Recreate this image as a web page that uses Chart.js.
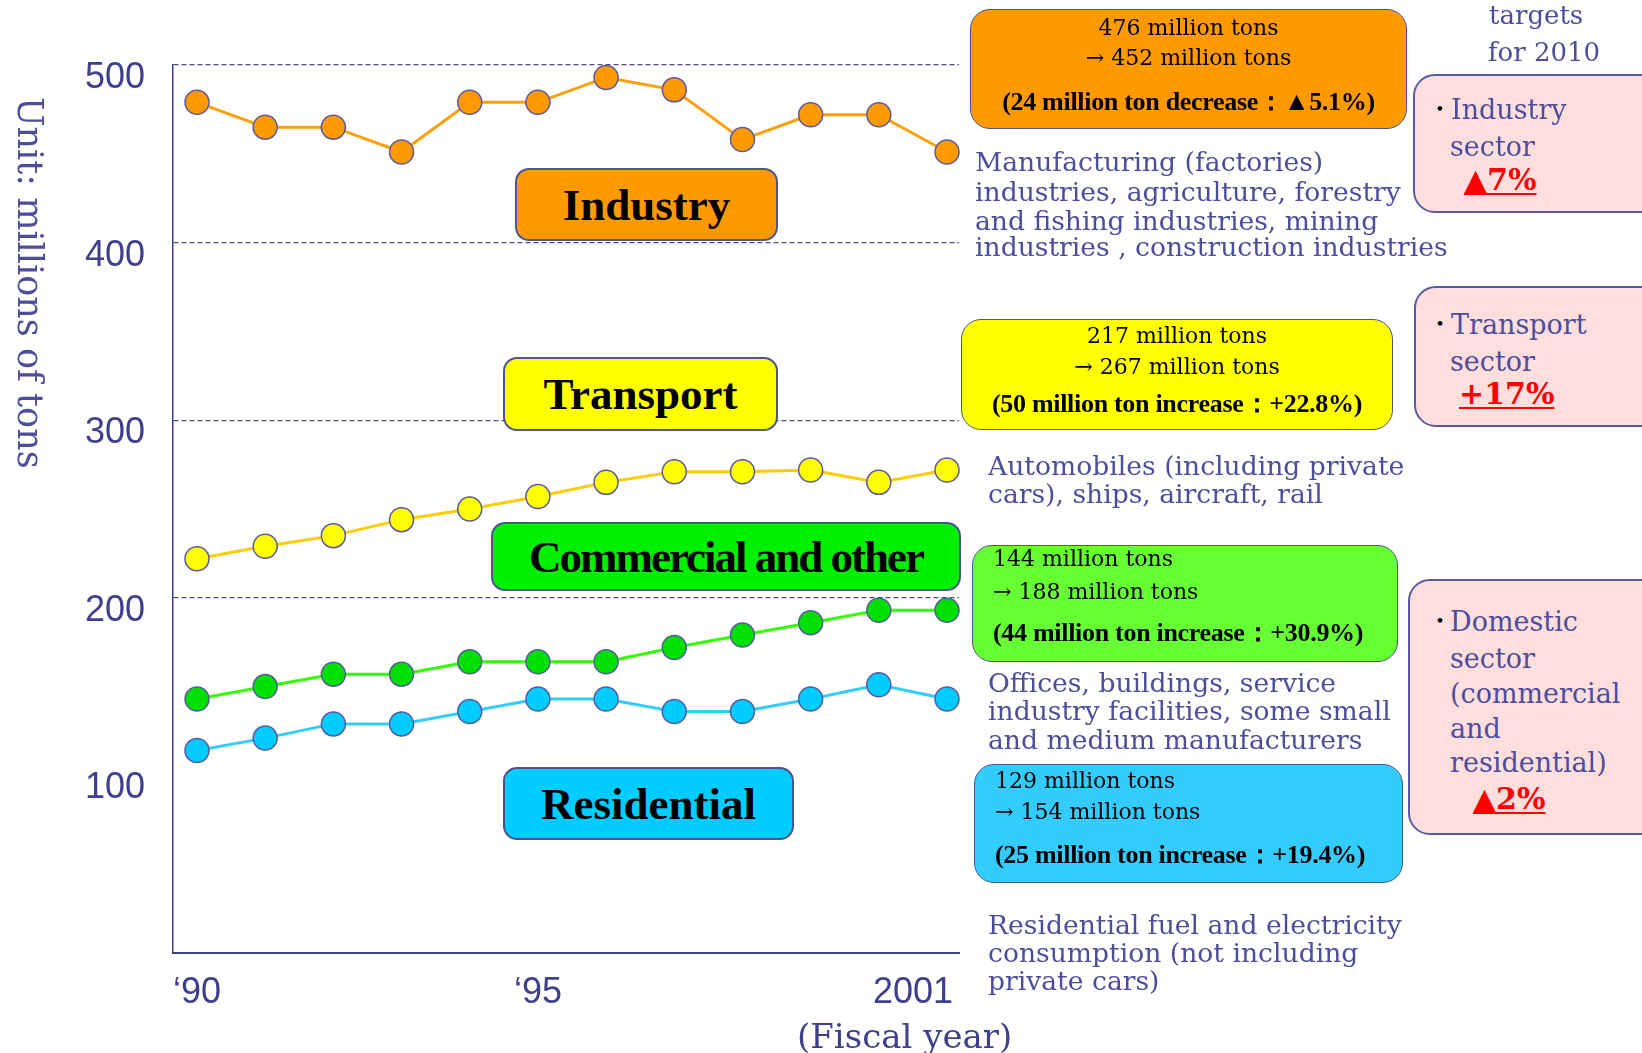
<!DOCTYPE html>
<html>
<head>
<meta charset="utf-8">
<title>CO2 emissions by sector</title>
<script src="https://cdn.jsdelivr.net/npm/chart.js@4.4.1/dist/chart.umd.min.js"></script>
<style>
html, body { margin: 0; padding: 0; background: #fff; }
#stage { position: relative; width: 1642px; height: 1053px; overflow: hidden; }
#chart { position: absolute; left: 0; top: 0; }

.box { position: absolute; box-sizing: border-box; border: 2px solid #4d5590; border-radius: 14px; }
.tag { display: flex; align-items: center; justify-content: center;
       font-family: "Liberation Serif", serif; font-weight: bold; font-size: 45px; color: #000; }
.ln { position: absolute; white-space: nowrap; height: 32px; line-height: 32px; }
.amt { font-family: "DejaVu Serif", serif; font-size: 22px; color: #000; }
.amt.b { font-family: "Liberation Serif", serif; font-weight: bold; font-size: 26px; letter-spacing: -0.3px; }
.ctr { text-align: center; }
.desc { font-family: "DejaVu Serif", serif; font-size: 26.6px; color: #4d4d9e; }
.pink { background: #ffdede; border-color: #5a5aa0; border-radius: 22px; }
.sec { font-family: "DejaVu Serif", serif; font-size: 27px; color: #4d4d9e; }
.dot { font-family: "Noto Sans CJK JP", sans-serif; font-size: 22px; color: #000; }
.red { font-family: "DejaVu Serif", serif; font-size: 30px; color: #ff0000; font-weight: bold;
       text-decoration: underline; text-decoration-thickness: 2px; text-underline-offset: 3px; }
.ytitle { position: absolute; left: 12px; top: 97px; writing-mode: vertical-rl; white-space: nowrap;
          font-family: "DejaVu Serif", serif; font-size: 35px; color: #4d4d9e; line-height: 36px; }
.xtitle { position: absolute; left: 797px; top: 1016px; white-space: nowrap;
          font-family: "DejaVu Serif", serif; font-size: 34px; color: #3f3f8f; line-height: 40px; }
</style>
</head>
<body>
<div id="stage">
  <canvas id="chart" width="1642" height="1053"></canvas>

  <div class="ytitle">Unit: millions of tons</div>
  <div class="xtitle">(Fiscal year)</div>

  <!-- sector tags inside the plot -->
  <div class="box tag" style="left:515px;top:168px;width:263px;height:73px;background:#ff9900;">Industry</div>
  <div class="box tag" style="left:503px;top:357px;width:275px;height:74px;background:#ffff00;">Transport</div>
  <div class="box tag" style="left:491px;top:522px;width:470px;height:69px;background:#00ee00;letter-spacing:-2px;">Commercial and other</div>
  <div class="box tag" style="left:503px;top:767px;width:291px;height:73px;background:#00ccff;">Residential</div>

  <!-- industry -->
  <div class="box" style="left:970px;top:9px;width:437px;height:120px;background:#ff9900;border-radius:20px;border-width:1.5px;"></div>
  <div class="ln amt ctr" style="left:970px;width:437px;top:12px;">476 million tons</div>
  <div class="ln amt ctr" style="left:970px;width:437px;top:42px;">→ 452 million tons</div>
  <div class="ln amt b ctr" style="left:970px;width:437px;top:86px;">(24 million ton decrease：▲5.1%)</div>
  <div class="ln desc" style="left:975px;top:146px;">Manufacturing (factories)</div>
  <div class="ln desc" style="left:975px;top:176px;">industries, agriculture, forestry</div>
  <div class="ln desc" style="left:975px;top:205px;">and fishing industries, mining</div>
  <div class="ln desc" style="left:975px;top:231px;">industries , construction industries</div>

  <!-- transport -->
  <div class="box" style="left:961px;top:319px;width:432px;height:111px;background:#ffff00;border-radius:20px;border-width:1.5px;"></div>
  <div class="ln amt ctr" style="left:961px;width:432px;top:320px;">217 million tons</div>
  <div class="ln amt ctr" style="left:961px;width:432px;top:351px;">→ 267 million tons</div>
  <div class="ln amt b ctr" style="left:961px;width:432px;top:388px;">(50 million ton increase：+22.8%)</div>
  <div class="ln desc" style="left:988px;top:450px;">Automobiles (including private</div>
  <div class="ln desc" style="left:988px;top:478px;">cars), ships, aircraft, rail</div>

  <!-- commercial -->
  <div class="box" style="left:972px;top:545px;width:426px;height:117px;background:#66ff33;border-radius:20px;border-width:1.5px;"></div>
  <div class="ln amt" style="left:993px;top:543px;">144 million tons</div>
  <div class="ln amt" style="left:993px;top:576px;">→ 188 million tons</div>
  <div class="ln amt b" style="left:993px;top:617px;">(44 million ton increase：+30.9%)</div>
  <div class="ln desc" style="left:988px;top:667px;">Offices, buildings, service</div>
  <div class="ln desc" style="left:988px;top:695px;">industry facilities, some small</div>
  <div class="ln desc" style="left:988px;top:724px;">and medium manufacturers</div>

  <!-- residential -->
  <div class="box" style="left:974px;top:764px;width:429px;height:119px;background:#33ccff;border-radius:20px;border-width:1.5px;"></div>
  <div class="ln amt" style="left:995px;top:765px;">129 million tons</div>
  <div class="ln amt" style="left:995px;top:796px;">→ 154 million tons</div>
  <div class="ln amt b" style="left:995px;top:839px;">(25 million ton increase：+19.4%)</div>
  <div class="ln desc" style="left:988px;top:909px;">Residential fuel and electricity</div>
  <div class="ln desc" style="left:988px;top:937px;">consumption (not including</div>
  <div class="ln desc" style="left:988px;top:965px;">private cars)</div>

  <!-- 2010 targets -->
  <div class="ln sec" style="left:1489px;top:-1px;font-size:26px;">targets</div>
  <div class="ln sec" style="left:1488px;top:36px;font-size:26px;">for 2010</div>

  <div class="box pink" style="left:1413px;top:74px;width:250px;height:139px;"></div>
  <div class="ln dot" style="left:1429px;top:90px;">・</div>
  <div class="ln sec" style="left:1451px;top:94px;">Industry</div>
  <div class="ln sec" style="left:1450px;top:131px;">sector</div>
  <div class="ln red" style="left:1464px;top:164px;">▲7%</div>

  <div class="box pink" style="left:1414px;top:286px;width:250px;height:141px;"></div>
  <div class="ln dot" style="left:1429px;top:305px;">・</div>
  <div class="ln sec" style="left:1451px;top:309px;">Transport</div>
  <div class="ln sec" style="left:1450px;top:346px;">sector</div>
  <div class="ln red" style="left:1459px;top:378px;">+17%</div>

  <div class="box pink" style="left:1408px;top:579px;width:256px;height:256px;"></div>
  <div class="ln dot" style="left:1429px;top:602px;">・</div>
  <div class="ln sec" style="left:1450px;top:606px;">Domestic</div>
  <div class="ln sec" style="left:1450px;top:643px;">sector</div>
  <div class="ln sec" style="left:1450px;top:678px;">(commercial</div>
  <div class="ln sec" style="left:1450px;top:713px;">and</div>
  <div class="ln sec" style="left:1450px;top:747px;">residential)</div>
  <div class="ln red" style="left:1473px;top:783px;">▲2%</div>
</div>

<script>
// ── Data (millions of tons CO2) ───────────────────────────────
const years       = [1990, 1991, 1992, 1993, 1994, 1995, 1996, 1997, 1998, 1999, 2000, 2001];
const industry    = [479, 465, 465, 451, 479, 479, 493, 486, 458, 472, 472, 451];
const transport   = [222, 229, 235, 244, 250, 257, 265, 271, 271, 272, 265, 272];
const commercial  = [143, 150, 157, 157, 164, 164, 164, 172, 179, 186, 193, 193];
const residential = [114, 121, 129, 129, 136, 143, 143, 136, 136, 143, 151, 143];

const yTicks      = [0, 100, 200, 300, 400, 500];
const yGridValues = [200, 300, 400, 500];
const xTickYears  = [1990, 1995, 2001];
const xTickLabels = ["‘90", "‘95", "2001"];

// ── Styling ───────────────────────────────────────────────────
const AXIS_COLOR  = "#3f3f8f";
const GRID_COLOR  = "#4d4d90";
const MARK_EDGE   = "#5a5aa0";
const TICK_FONT   = '"Liberation Sans Narrow", "Liberation Sans", Arial, sans-serif';

function series(values, line, fill) {
    return {
        data: values,
        borderColor: line,
        borderWidth: 3,
        pointBackgroundColor: fill,
        pointBorderColor: MARK_EDGE,
        pointBorderWidth: 1.5,
        pointRadius: 12,
        pointHoverRadius: 12,
        tension: 0,
        clip: false
    };
}

// x tick labels: first ones centred on their year, the last one pulled in to the left
const xLabelPlugin = {
    id: "xLabels",
    afterDraw(chart) {
        const { ctx, scales: { x } } = chart;
        ctx.save();
        ctx.font = "36px " + TICK_FONT;
        ctx.fillStyle = AXIS_COLOR;
        ctx.textBaseline = "middle";
        xTickYears.forEach((yr, i) => {
            const last = i === xTickYears.length - 1;
            ctx.textAlign = last ? "right" : "center";
            ctx.fillText(xTickLabels[i], x.getPixelForValue(yr) + (last ? 6 : 0), x.top + 40);
        });
        ctx.restore();
    }
};

new Chart(document.getElementById("chart"), {
    type: "line",
    data: {
        labels: years,
        datasets: [
            series(industry,    "#ffa00a", "#ff9900"),
            series(transport,   "#ffcc00", "#ffff00"),
            series(commercial,  "#33ff00", "#00e000"),
            series(residential, "#33ccff", "#00ccff")
        ]
    },
    options: {
        responsive: false,
        animation: false,
        events: [],
        layout: { padding: { left: 0, top: 65, right: 683, bottom: 0 } },
        plugins: { legend: { display: false }, tooltip: { enabled: false } },
        scales: {
            x: {
                type: "linear",
                min: 1989.648,
                max: 2001.176,
                grid: { display: false },
                border: { display: true, color: AXIS_COLOR, width: 2 },
                ticks: { display: false },
                afterFit: s => { s.height = 100; }
            },
            y: {
                min: 0,
                max: 500,
                afterBuildTicks: s => { s.ticks = yTicks.map(v => ({ value: v })); },
                afterFit: s => { s.width = 173; },
                grid: {
                    drawTicks: false,
                    lineWidth: 1.3,
                    color: c => yGridValues.includes(c.tick.value) ? GRID_COLOR : "rgba(0,0,0,0)"
                },
                border: { display: true, color: AXIS_COLOR, width: 1.5, dash: [5, 3] },
                ticks: {
                    color: AXIS_COLOR,
                    font: { family: TICK_FONT, size: 36 },
                    padding: 28,
                    labelOffset: 13,
                    callback: v => v === 0 ? "" : v
                }
            }
        }
    },
    plugins: [xLabelPlugin]
});
</script>
</body>
</html>
